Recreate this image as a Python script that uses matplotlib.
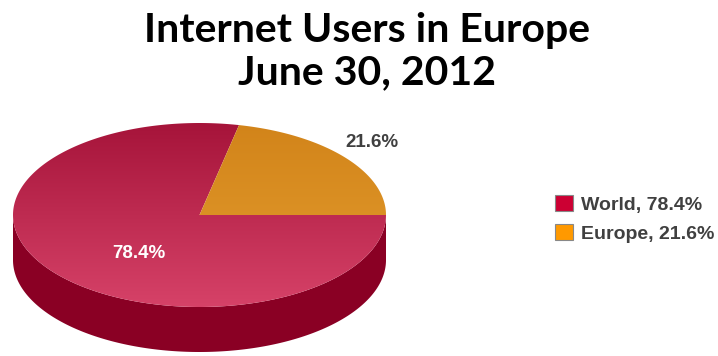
import matplotlib
matplotlib.use("Agg")
import matplotlib.pyplot as plt, numpy as np
from matplotlib.patches import Polygon, Patch
from matplotlib.colors import LinearSegmentedColormap

labels = ["World", "Europe"]
values = [78.4, 21.6]
top_dark = ["#a6143a", "#d2841a"]   # colour at the back of the top face
top_light = ["#d64268", "#e49d2e"]  # colour at the front of the top face
side_colors = ["#8a0024", "#9a5a10"]
legend_colors = ["#cc0033", "#ff9900"]

title = "Internet Users in Europe\nJune 30, 2012"

# pie geometry in pixels
cx, cy = 199.5, 215
rx, ry = 186.5, 92
depth = 45

fig = plt.figure(figsize=(7.18, 3.56), dpi=100)
ax = fig.add_axes([0, 0, 1, 1])
ax.set_xlim(0, 718)
ax.set_ylim(356, 0)
ax.axis("off")

# Europe goes counter-clockwise from 3 o'clock, World takes the rest
fracs = np.array(values) / sum(values)
angles = [(fracs[1] * 360, 360), (0, fracs[1] * 360)]


def ell(t, drop=0):
    t = np.radians(t)
    return np.column_stack([cx + rx * np.cos(t), cy - ry * np.sin(t) + drop])


# side walls (only the front half is visible)
for (a0, a1), sc in zip(angles, side_colors):
    lo, hi = max(a0, 180), min(a1, 360)
    if hi <= lo:
        continue
    t = np.linspace(lo, hi, 200)
    pts = np.vstack([ell(t), ell(t[::-1], depth)])
    ax.add_patch(Polygon(pts, closed=True, fc=sc, ec="none"))

# top faces with vertical gradient
grad = np.linspace(0, 1, 256).reshape(-1, 1)
for (a0, a1), c0, c1 in zip(angles, top_dark, top_light):
    t = np.linspace(a0, a1, 300)
    pts = np.vstack([[cx, cy], ell(t)])
    poly = Polygon(pts, closed=True, fc="none", ec="none")
    ax.add_patch(poly)
    cmap = LinearSegmentedColormap.from_list("g", [c0, c1])
    im = ax.imshow(grad, cmap=cmap, aspect="auto",
                   extent=(cx - rx, cx + rx, cy + ry, cy - ry), zorder=2)
    im.set_clip_path(poly)

# data labels
mid_w = np.radians(np.mean(angles[0]))
ax.text(cx + 0.42 * rx * np.cos(mid_w), cy - 0.42 * ry * np.sin(mid_w) + 14,
        "%.1f%%" % values[0], color="white", fontsize=13.5, fontweight="bold",
        family="Liberation Sans", ha="center", va="center", zorder=5)
mid_e = np.radians(np.mean(angles[1]))
ax.text(cx + 1.19 * rx * np.cos(mid_e), cy - 1.19 * ry * np.sin(mid_e) - 4,
        "%.1f%%" % values[1], color="#404040", fontsize=13.5, fontweight="bold",
        family="Liberation Sans", ha="center", va="center", zorder=5)

# title
fig.text(0.511, 0.965, title, ha="center", va="top", fontsize=29.5,
         fontweight="bold", family="Lato", linespacing=1.15)

# legend
handles = [Patch(fc=c, ec="#888888", lw=0.8) for c in legend_colors]
leg_labels = ["%s, %.1f%%" % (l, v) for l, v in zip(labels, values)]
leg = fig.legend(handles, leg_labels, loc="center left", bbox_to_anchor=(0.749, 0.385),
                 frameon=False, handlelength=0.9, handleheight=0.9, handletextpad=0.4,
                 labelspacing=0.5, prop={"family": "Liberation Sans", "weight": "bold", "size": 14})
for t in leg.get_texts():
    t.set_color("#404040")

fig.savefig("out.png", dpi=100)
